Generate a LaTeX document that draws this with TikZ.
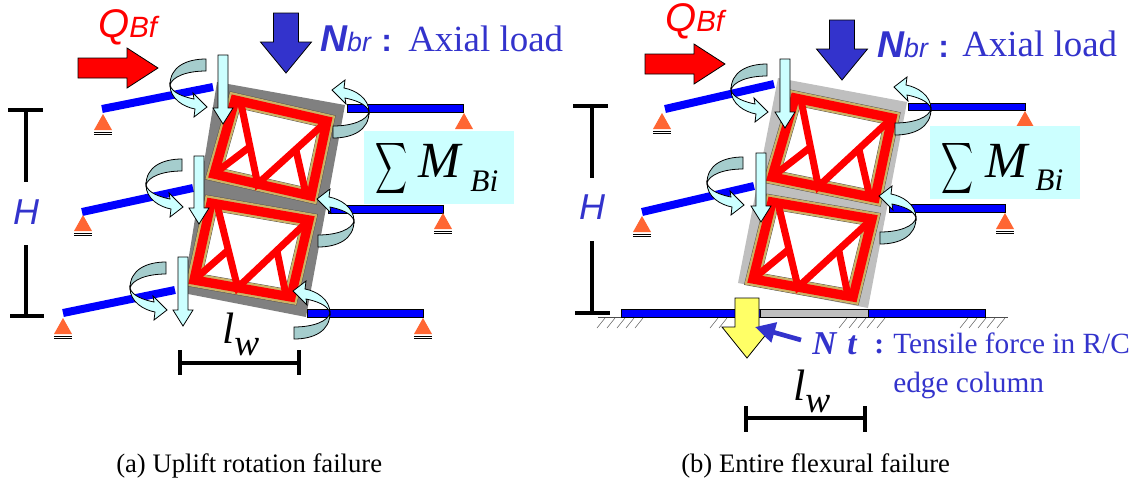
\documentclass[tikz,border=0pt]{standalone}
\usepackage{fontspec}
\setmainfont{Liberation Serif}
\newfontfamily\arialfont{Liberation Sans}
\usetikzlibrary{calc,arrows.meta}
\definecolor{loadblue}{RGB}{51,51,204}
\definecolor{momentdark}{RGB}{165,205,205}
\definecolor{momentlight}{RGB}{204,255,255}
\definecolor{supportorange}{RGB}{255,102,51}
\definecolor{frametan}{RGB}{204,178,102}
\definecolor{hingeyellow}{RGB}{255,255,102}
\tikzset{
  pics/blockarrow/.style n args={4}{code={
    \draw[pic actions] (0,0) -- (-#2,-#3) -- (-#4,-#3) -- (-#4,-#1) -- (#4,-#1) -- (#4,-#3) -- (#2,-#3) -- cycle;
  }},
  pics/moment/.style={code={
    \draw[thinline,fill=momentlight] (-36,26) .. controls (-36,40) and (-22,48) .. (-11,50) -- (-12,58) -- (1,48)
      -- (-13,34) -- (-12,40) .. controls (-22,38) and (-34,34) .. (-36,26) -- cycle;
    \draw[thinline,fill=momentdark] (0,0) .. controls (-20,0) and (-36,8) .. (-36,26)
      .. controls (-34,18) and (-20,12) .. (0,12) -- cycle;
  }},
  pics/support/.style={code={
    \fill[supportorange] (0,0) -- (-9,16) -- (9,16) -- cycle;
    \draw[thinline] (-9,18) -- (9,18) (-9,20) -- (9,20);
  }},
  thinline/.style={draw=black,line width=.6pt},
  bigload/.style={thinline,fill=loadblue},
  shear/.style={thinline,fill=red},
  lightarrow/.style={thinline,fill=momentlight},
  beam/.style={draw=blue,line width=6pt},
  flatbeam/.style={thinline,fill=blue},
  dimline/.style={draw=black,line width=3pt},
  bluetext/.style={text=loadblue,inner sep=0pt,anchor=base west},
  blacktext/.style={text=black,inner sep=0pt,anchor=base west},
  redtext/.style={text=red,inner sep=0pt,anchor=base west},
  sumbox/.style={fill=momentlight,minimum width=112.5pt,minimum height=54.75pt,inner sep=0pt},
}
\newcommand{\trusspanel}[4]{
  \coordinate (tl) at (#1);
  \coordinate (tr) at (#2);
  \coordinate (br) at (#3);
  \coordinate (bl) at (#4);
  \coordinate (topd) at ($(tl)!.06!(tr)$);
  \coordinate (apex) at ($(bl)!.45!(br)$);
  \coordinate (botd) at ($(bl)!.95!(br)$);
  \filldraw[fill=white,draw=black!70,line width=11pt,line join=miter] (tl) -- (tr) -- (br) -- (bl) -- cycle;
  \draw[frametan,line width=10.4pt,line join=miter] (tl) -- (tr) -- (br) -- (bl) -- cycle;
  \draw[red,line width=7pt,line join=miter] (tl) -- (tr) -- (br) -- (bl) -- cycle;
  \draw[red,line width=5.25pt] (topd) -- (apex) -- (tr);
  \draw[red,line width=5.25pt] (bl) -- ($(topd)!.55!(apex)$);
  \draw[red,line width=5.25pt] ($(apex)!.55!(tr)$) -- (botd);
}
\newcommand{\sumlabel}{\scalebox{1.66}[2.68]{$\displaystyle\sum$}}
\begin{document}
\begin{tikzpicture}[x=.75pt,y=-.75pt]
  \useasboundingbox (0,0) rectangle (1140,480);

  % (a)
  \fill[black!50] (217,82) -- (345,105) -- (306,317) -- (183,293) -- cycle;
  \trusspanel{235,100}{327,121}{311,196}{214,174}
  \trusspanel{211,203}{309,220}{291,297}{194,280}

  \draw[beam] (102,109) -- (213,87);
  \draw[beam] (82,212) -- (193,188);
  \draw[beam] (63,313) -- (175,290);
  \draw[flatbeam] (347,104) rectangle (463,112);
  \draw[flatbeam] (328,205) rectangle (443,213);
  \draw[flatbeam] (307,309) rectangle (423,317);
  \foreach \x/\y in {103/114,83/215,63/318,464/113,443/213,423/318}
    \pic at (\x,\y) {support};

  \node[sumbox] (sumboxa) at (439,167.5) {};
  \node[blacktext] (sigmaa) at (375,177) {\sumlabel};
  \node[blacktext,font=\fontsize{38}{40}\selectfont\itshape] (ma) at (418,177) {M\kern7.5pt\raisebox{-10.5pt}{\fontsize{23.5}{25}\selectfont Bi}};

  \pic at (206,59) {moment};
  \pic at (182,159) {moment};
  \pic at (166,262) {moment};
  \pic[rotate=180] at (333,138) {moment};
  \pic[rotate=180] at (318,247) {moment};
  \pic[rotate=180] at (294,339) {moment};

  \pic[lightarrow] at (223,124) {blockarrow={69}{10}{16}{5}};
  \pic[lightarrow] at (199,224) {blockarrow={68}{10}{16}{5}};
  \pic[lightarrow] at (183,326) {blockarrow={69}{10}{16}{5}};
  \pic[bigload] at (286,73) {blockarrow={60}{25.5}{31}{12.5}};
  \pic[shear,rotate=90] at (158,68) {blockarrow={80}{20}{31}{10}};

  \node[redtext,font=\fontsize{30}{32}\selectfont\arialfont\itshape] (qa) at (98,37) {Q{\fontsize{22}{24}\selectfont Bf}};
  \node[bluetext,font=\fontsize{28}{30}\selectfont\arialfont\bfseries\itshape] (na) at (320,51) {N{\fontsize{20}{22}\selectfont\mdseries br}};
  \node[bluetext,font=\fontsize{24}{26}\selectfont\arialfont\bfseries] (cola) at (381,51) {:};
  \node[bluetext,font=\fontsize{27.7}{30}\selectfont] (axiala) at (408,51) {Axial load};
  \node[text=loadblue,font=\fontsize{27}{30}\selectfont\arialfont\itshape] (ha) at (26,212) {H};

  \coordinate (hta) at (26,110);
  \coordinate (hua) at (26,182);
  \coordinate (hva) at (26,245);
  \coordinate (hba) at (26,316);
  \draw[dimline] (hta) -- (hua) (8,110) -- (43,110);
  \draw[dimline] (hva) -- (hba) (10,316) -- (44,316);
  \draw[dimline] (180,350) -- (180,375) (299,350) -- (299,375) (180,363) -- (299,363);
  \node[blacktext,font=\fontsize{33}{35}\selectfont\itshape] (la) at (222,343) {l\raisebox{-9pt}{\fontsize{28}{30}\selectfont w}};
  \node[blacktext,font=\fontsize{20}{22}\selectfont] (capa) at (116,472) {(a) Uplift rotation failure};

  % (b)
  \fill[black!25] (778,78) -- (907,102) -- (868,308) -- (738,283) -- cycle;
  \trusspanel{795,98}{892,118}{875,198}{772,177}
  \trusspanel{772,202}{872,219}{853,297}{753,279}

  \draw[beam] (665,109) -- (774,84);
  \draw[beam] (642,212) -- (754,186);
  \draw[flatbeam] (908,103) rectangle (1025,110);
  \draw[flatbeam] (889,204) rectangle (1005,212);
  \foreach \x/\y in {662/113,642/216,1025/111,1005/213}
    \pic at (\x,\y) {support};

  \draw[black!70,line width=.6pt] (598,317) -- (1008,317);
  \foreach \x in {605,615,625,634,643,718,727,847,857,866,875,885,968,977,986,995,1005}
    \draw[black!60,line width=.4pt] (\x,318) -- (\x-8,328);
  \draw[flatbeam] (621,309) rectangle (760,317);
  \draw[thinline,fill=black!25] (760,309) rectangle (868,317);
  \draw[flatbeam] (868,309) rectangle (985,317);

  \node[sumbox] (sumboxb) at (1005,162.5) {};
  \node[blacktext] (sigmab) at (941,177) {\sumlabel};
  \node[blacktext,font=\fontsize{38}{40}\selectfont\itshape] (mb) at (985,177) {M\kern6pt\raisebox{-10pt}{\fontsize{23.5}{25}\selectfont Bi}};

  \pic at (767,64) {moment};
  \pic at (743,157) {moment};
  \pic[rotate=180] at (895,135) {moment};
  \pic[rotate=180] at (880,244) {moment};

  \pic[lightarrow] at (785,128) {blockarrow={69}{10}{16}{5}};
  \pic[lightarrow] at (761,222) {blockarrow={69}{10}{16}{5}};
  \pic[bigload] at (842,80) {blockarrow={60}{25.5}{31}{12.5}};
  \pic[shear,rotate=90] at (725,64) {blockarrow={80}{20}{31}{10}};
  \pic[thinline,fill=hingeyellow] at (747,358) {blockarrow={60}{25}{31}{12}};

  \coordinate (ntstart) at (801,340);
  \coordinate (nttip) at (755,327);
  \draw[loadblue,line width=3.5pt,-{Triangle[length=15pt,width=15pt]}] (ntstart) -- (nttip);

  \node[redtext,font=\fontsize{30}{32}\selectfont\arialfont\itshape] (qb) at (665,31) {Q{\fontsize{22}{24}\selectfont Bf}};
  \node[bluetext,font=\fontsize{28}{30}\selectfont\arialfont\bfseries\itshape] (nb) at (877,57) {N{\fontsize{20}{22}\selectfont\mdseries br}};
  \node[bluetext,font=\fontsize{24}{26}\selectfont\arialfont\bfseries] (colb) at (938,57) {:};
  \node[bluetext,font=\fontsize{27.7}{30}\selectfont] (axialb) at (962,56) {Axial load};
  \node[text=loadblue,font=\fontsize{27}{30}\selectfont\arialfont\itshape] (hb) at (592,207) {H};
  \node[bluetext,font=\fontsize{25}{27}\selectfont\bfseries\itshape] (ntn) at (812,354) {N};
  \node[bluetext,font=\fontsize{25}{27}\selectfont\bfseries\itshape] (ntt) at (847,354) {t};
  \node[bluetext,font=\fontsize{22}{24}\selectfont\bfseries] (ntc) at (874,353) {:};
  \node[bluetext,font=\fontsize{22}{24}\selectfont] (ntone) at (893,353) {Tensile force in R/C};
  \node[bluetext,font=\fontsize{22}{24}\selectfont] (nttwo) at (893,392) {edge column};

  \coordinate (htb) at (592,106);
  \coordinate (hub) at (592,178);
  \coordinate (hvb) at (592,241);
  \coordinate (hbb) at (592,313);
  \draw[dimline] (htb) -- (hub) (573,106) -- (608,106);
  \draw[dimline] (hvb) -- (hbb) (575,313) -- (610,313);
  \draw[dimline] (746,406) -- (746,432) (865,406) -- (865,432) (746,418) -- (865,418);
  \node[blacktext,font=\fontsize{33}{35}\selectfont\itshape] (lb) at (793,400) {l\raisebox{-9pt}{\fontsize{28}{30}\selectfont w}};
  \node[blacktext,font=\fontsize{20}{22}\selectfont] (capb) at (681,472) {(b) Entire flexural failure};
\end{tikzpicture}
\end{document}
